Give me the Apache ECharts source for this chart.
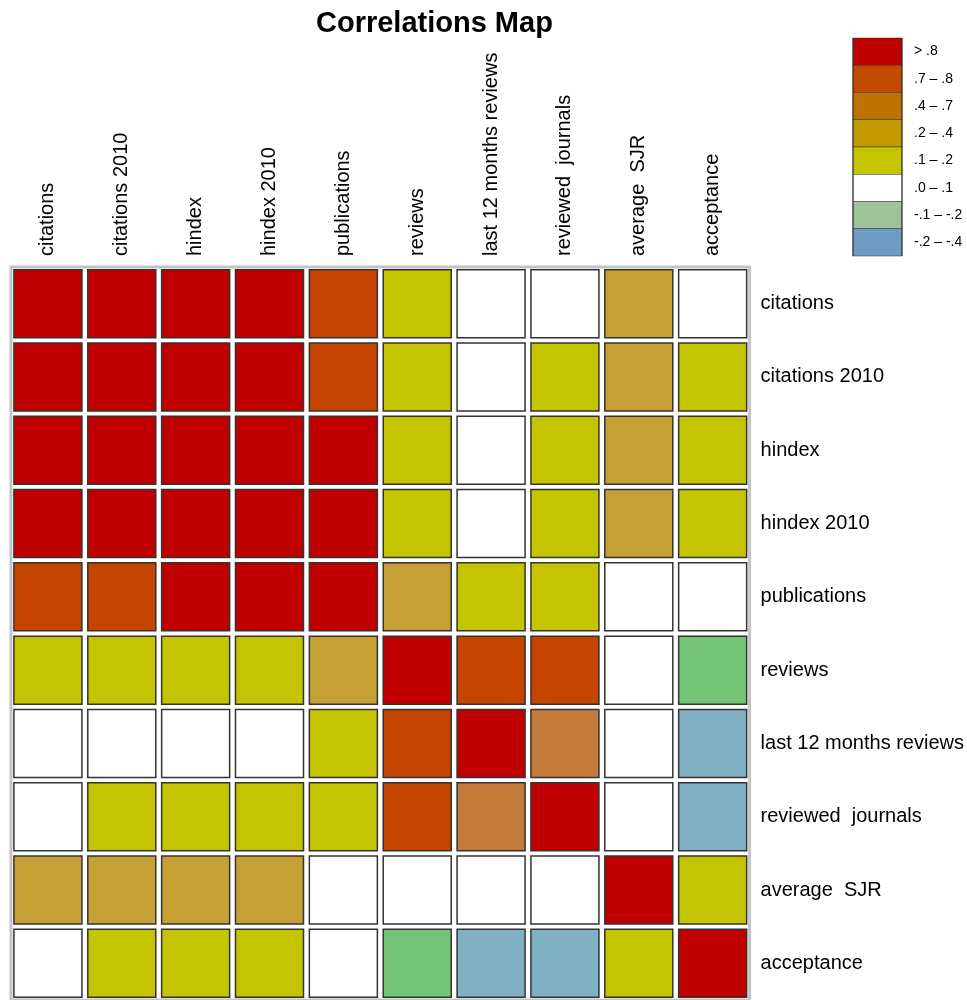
<!DOCTYPE html>
<html>
<head>
<meta charset="utf-8">
<script src="https://cdn.jsdelivr.net/npm/echarts@6/dist/echarts.min.js"></script>
<style>html,body{margin:0;padding:0;background:#fff}#c{width:967px;height:1000px}</style>
</head>
<body>
<div id="c"></div>
<script>
// Variables (columns left→right, rows top→bottom)
const variables = ['citations', 'citations 2010', 'hindex', 'hindex 2010', 'publications', 'reviews', 'last 12 months reviews', 'reviewed  journals', 'average  SJR', 'acceptance'];
const rowLabels = ['citations', 'citations 2010', 'hindex', 'hindex 2010', 'publications', 'reviews', 'last 12 months reviews', 'reviewed  journals', 'average  SJR', 'acceptance'];

// Correlation estimates (one row per variable)
const rowCitations      = [1.00, 0.97, 0.92, 0.90, 0.74, 0.15, 0.06, 0.08, 0.30, 0.04];
const rowCitations2010  = [0.97, 1.00, 0.91, 0.93, 0.76, 0.14, 0.07, 0.11, 0.28, 0.12];
const rowHindex         = [0.92, 0.91, 1.00, 0.98, 0.84, 0.16, 0.08, 0.13, 0.32, 0.13];
const rowHindex2010     = [0.90, 0.93, 0.98, 1.00, 0.86, 0.15, 0.07, 0.14, 0.31, 0.14];
const rowPublications   = [0.74, 0.76, 0.84, 0.86, 1.00, 0.25, 0.17, 0.18, 0.05, 0.06];
const rowReviews        = [0.15, 0.14, 0.16, 0.15, 0.25, 1.00, 0.78, 0.75, 0.03, -0.15];
const rowLast12         = [0.06, 0.07, 0.08, 0.07, 0.17, 0.78, 1.00, 0.62, 0.02, -0.25];
const rowReviewedJ      = [0.08, 0.11, 0.13, 0.14, 0.18, 0.75, 0.62, 1.00, 0.04, -0.22];
const rowAvgSJR         = [0.30, 0.28, 0.32, 0.31, 0.05, 0.03, 0.02, 0.04, 1.00, 0.12];
const rowAcceptance     = [0.04, 0.12, 0.13, 0.14, 0.06, -0.15, -0.25, -0.22, 0.12, 1.00];
const matrix = [rowCitations, rowCitations2010, rowHindex, rowHindex2010, rowPublications, rowReviews, rowLast12, rowReviewedJ, rowAvgSJR, rowAcceptance];

// Legend bins
const legendLabels = ['> .8', '.7 \u2013 .8', '.4 \u2013 .7', '.2 \u2013 .4', '.1 \u2013 .2', '.0 \u2013 .1', '-.1 \u2013 -.2', '-.2 \u2013 -.4'];
const cellColors = ['#C00000', '#C44400', '#C47C3A', '#C4A035', '#C4C400', '#FFFFFF', '#74C476', '#80B0C4'];
const legendColors = ['#C00000', '#C24A00', '#C07200', '#C29A00', '#C4C400', '#FFFFFF', '#9CC39A', '#6E9BC4'];

function binOf(v) {
  if (v > 0.8) return 0;
  if (v > 0.7) return 1;
  if (v > 0.4) return 2;
  if (v > 0.2) return 3;
  if (v > 0.1) return 4;
  if (v >= 0.0) return 5;
  if (v >= -0.2) return 6;
  return 7;
}

const cellData = [];
matrix.forEach((row, r) => row.forEach((v, c) => cellData.push([c, r, v])));
const legendData = legendLabels.map((l, i) => [0, i, i]);

const FONT = '"Liberation Sans", Arial, sans-serif';
const chart = echarts.init(document.getElementById('c'), null, {renderer: 'canvas'});
chart.setOption({
  animation: false,
  backgroundColor: '#ffffff',
  title: {
    text: 'Correlations Map', left: 311, top: 4,
    textStyle: {fontFamily: FONT, fontSize: 29, fontWeight: 'bold', color: '#000'}
  },
  grid: [
    {left: 11, top: 267, width: 740, height: 740, show: true, backgroundColor: '#fff', borderColor: '#c4c4c4', borderWidth: 3},
    {left: 853, top: 38, width: 49, height: 218, show: false}
  ],
  xAxis: [
    {type: 'category', gridIndex: 0, data: variables, position: 'top',
     axisLine: {show: false}, axisTick: {show: false}, splitLine: {show: false},
     axisLabel: {rotate: -90, margin: 11, fontFamily: FONT, fontSize: 20, color: '#000'}},
    {type: 'category', gridIndex: 1, data: ['k'], show: false}
  ],
  yAxis: [
    {type: 'category', gridIndex: 0, data: rowLabels, inverse: true, position: 'right',
     axisLine: {show: false}, axisTick: {show: false}, splitLine: {show: false},
     axisLabel: {margin: 11, fontFamily: FONT, fontSize: 20, color: '#000'}},
    {type: 'category', gridIndex: 1, data: legendLabels, inverse: true, position: 'right',
     axisLine: {show: false}, axisTick: {show: false}, splitLine: {show: false},
     axisLabel: {margin: 12, fontFamily: FONT, fontSize: 14, color: '#000'}}
  ],
  series: [
    {type: 'scatter', xAxisIndex: 0, yAxisIndex: 0, data: cellData,
     symbol: 'rect', symbolSize: 68, silent: true,
     itemStyle: {color: p => cellColors[binOf(p.value[2])], borderColor: '#333', borderWidth: 1.5, opacity: 1}},
    {type: 'scatter', xAxisIndex: 1, yAxisIndex: 1, data: legendData,
     symbol: 'rect', symbolSize: [49, 27.25], silent: true,
     itemStyle: {color: p => legendColors[p.value[2]], borderColor: '#333', borderWidth: 1, opacity: 1}}
  ]
});
</script>
</body>
</html>
